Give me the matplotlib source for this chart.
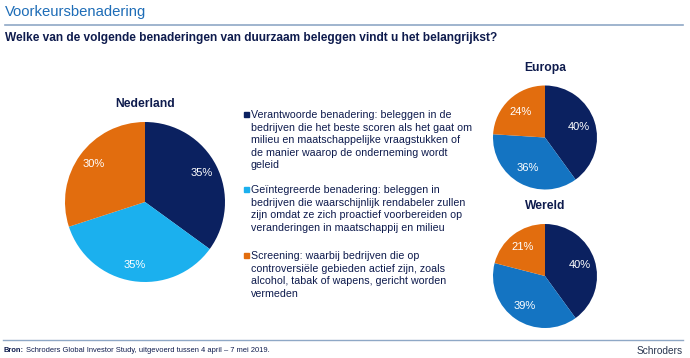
import matplotlib.pyplot as plt

plt.rcParams['font.family'] = ['Liberation Sans', 'DejaVu Sans']

# data
categories = ['Verantwoorde benadering', 'Geïntegreerde benadering', 'Screening']
nederland = [35, 35, 30]
europa = [40, 36, 24]
wereld = [40, 39, 21]

legend_texts = [
    'Verantwoorde benadering: beleggen in de\nbedrijven die het beste scoren als het gaat om\n'
    'milieu en maatschappelijke vraagstukken of\nde manier waarop de onderneming wordt\ngeleid',
    'Geïntegreerde benadering: beleggen in\nbedrijven die waarschijnlijk rendabeler zullen\n'
    'zijn omdat ze zich proactief voorbereiden op\nveranderingen in maatschappij en milieu',
    'Screening: waarbij bedrijven die op\ncontroversiële gebieden actief zijn, zoals\n'
    'alcohol, tabak of wapens, gericht worden\nvermeden',
]

navy = '#0B2160'
light_blue = '#1BB0EE'
mid_blue = '#1474C2'
orange = '#E26D0E'
text_navy = '#0E1B4D'

W, H = 690, 358
fig = plt.figure(figsize=(W / 100, H / 100), dpi=100)


def box(cx, cy, r):
    # pixel centre/radius -> figure axes rect
    return [(cx - r) / W, 1 - (cy + r) / H, 2 * r / W, 2 * r / H]


def pie(values, colors, cx, cy, r, title, pctd):
    ax = fig.add_axes(box(cx, cy, r))
    ax.pie(values, colors=colors, startangle=90, counterclock=False,
           autopct='%d%%', pctdistance=pctd,
           textprops=dict(color='white', fontsize=8))
    ax.set_aspect('equal')
    ax.set_xlim(-1, 1)
    ax.set_ylim(-1, 1)
    fig.text(cx / W, 1 - (cy - r - 18) / H, title, ha='center', va='center',
             fontsize=8.7, fontweight='bold', color=text_navy)


pie(nederland, [navy, light_blue, orange], 145, 202, 80, 'Nederland', 0.8)
pie(europa, [navy, mid_blue, orange], 545, 137.5, 52, 'Europa', 0.68)
pie(wereld, [navy, mid_blue, orange], 545, 276, 52, 'Wereld', 0.7)

# legend blocks
legend_y = [110, 185, 251]
for txt, col, y in zip(legend_texts, [navy, light_blue, orange], legend_y):
    fig.patches.append(plt.Rectangle((244 / W, 1 - (y + 7) / H), 5 / W, 5 / H,
                                     transform=fig.transFigure, color=col))
    fig.text(251 / W, 1 - y / H, txt, ha='left', va='top', fontsize=7.7,
             color=text_navy, linespacing=1.32)

# header
fig.text(5 / W, 1 - 12 / H, 'Voorkeursbenadering', ha='left', va='center',
         fontsize=10.7, color='#1E6DB7')
fig.add_artist(plt.Line2D([5 / W, 683 / W], [1 - 25 / H, 1 - 25 / H],
                          color='#8FA8C6', lw=1.2))
fig.text(5 / W, 1 - 38 / H,
         'Welke van de volgende benaderingen van duurzaam beleggen vindt u het belangrijkst?',
         ha='left', va='center', fontsize=8.6, fontweight='bold', color=text_navy)

# footer
fig.add_artist(plt.Line2D([3 / W, 683 / W], [1 - 340 / H, 1 - 340 / H],
                          color='#8FA8C6', lw=1))
bron = fig.text(4 / W, 1 - 350 / H, 'Bron:', ha='left', va='center',
                fontsize=5.45, fontweight='bold', color=text_navy)
fig.canvas.draw()
bx = bron.get_window_extent().x1
fig.text((bx + 1.5) / W, 1 - 350 / H,
         'Schroders Global Investor Study, uitgevoerd tussen 4 april \u2013 7 mei 2019.',
         ha='left', va='center', fontsize=5.45, color=text_navy)
fig.text(683 / W, 1 - 351 / H, 'Schroders', ha='right', va='center',
         fontsize=7.3, color='#2A3650')

fig.savefig('out.png', dpi=100)
